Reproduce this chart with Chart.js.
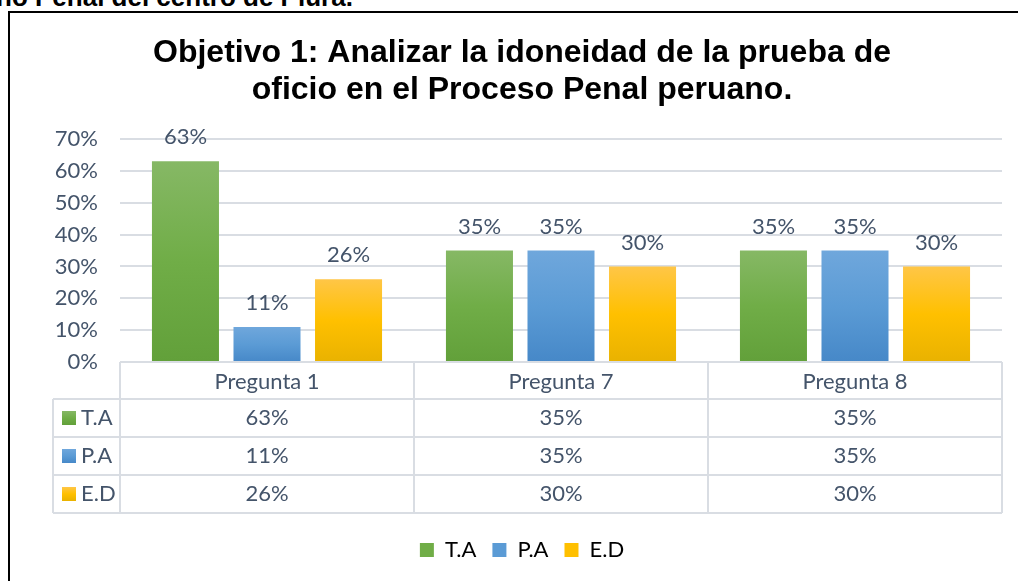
<!DOCTYPE html>
<html>
<head>
<meta charset="utf-8">
<script src="https://cdn.jsdelivr.net/npm/chart.js@4/dist/chart.umd.min.js"></script>
<style>
  body { margin: 0; background: #fff; width: 1018px; height: 581px; overflow: hidden; position: relative; }
  #arriba { position: absolute; left: -4px; top: -16px; font: bold 26px "Liberation Sans", Arial, sans-serif; line-height: 26px; color: #000; white-space: nowrap; }
  #marco { position: absolute; left: 8px; top: 11px; width: 1100px; height: 700px; border: 2px solid #000; }
  #grafico { position: absolute; left: 0; top: 0; }
</style>
</head>
<body>
<div id="arriba">no Penal del centro de Piura.</div>
<div id="marco"></div>
<canvas id="grafico" width="1018" height="581"></canvas>
<script>
// datos
const categorias = ["Pregunta 1", "Pregunta 7", "Pregunta 8"];
const series = ["T.A", "P.A", "E.D"];
const valoresTA = [63, 35, 35];
const valoresPA = [11, 35, 35];
const valoresED = [26, 30, 30];
const yMax = 70;
const yPaso = 10;

const titulo = ["Objetivo 1: Analizar la idoneidad de la prueba de", "oficio en el Proceso Penal peruano."];

// colores (arriba, medio, abajo)
const verde = ["#86b865", "#70ad47", "#62a03a"];
const azul = ["#6fa7dc", "#5b9bd5", "#4688c8"];
const amarillo = ["#ffc647", "#ffc000", "#e9b200"];

const texto = "#44546a";
const linea = "#d9dde3";
const fuente = "Lato, 'Open Sans', sans-serif";

function degradado(c) {
  return ctx => {
    const chart = ctx.chart;
    if (!chart.chartArea || ctx.type !== "data") return c[1];
    const y = chart.scales.y;
    const arriba = y.getPixelForValue(ctx.parsed.y);
    const base = y.getPixelForValue(0);
    const g = chart.ctx.createLinearGradient(0, arriba, 0, base);
    g.addColorStop(0, c[0]);
    g.addColorStop(0.5, c[1]);
    g.addColorStop(1, c[2]);
    return g;
  };
}

// etiquetas encima de las barras
const etiquetas = {
  id: "etiquetas",
  afterDatasetsDraw(chart) {
    const ctx = chart.ctx;
    ctx.save();
    ctx.font = "22px " + fuente;
    ctx.fillStyle = texto;
    ctx.textAlign = "center";
    ctx.textBaseline = "middle";
    chart.data.datasets.forEach((ds, i) => {
      chart.getDatasetMeta(i).data.forEach((bar, j) => {
        ctx.fillText(ds.data[j] + "%", bar.x, bar.y - 24);
      });
    });
    ctx.restore();
  }
};

// tabla de datos bajo el eje x
const tabla = {
  id: "tabla",
  afterDraw(chart) {
    const ctx = chart.ctx;
    const x = chart.scales.x;
    const area = chart.chartArea;
    const izq = 53;
    const altoCab = 37;
    const altoFila = 38;
    const y0 = area.bottom;
    const filas = chart.data.datasets.length;
    const yFin = y0 + altoCab + altoFila * filas;

    const bordes = [area.left];
    for (let i = 0; i < categorias.length - 1; i++) {
      bordes.push((x.getPixelForValue(i) + x.getPixelForValue(i + 1)) / 2);
    }
    bordes.push(area.right);

    ctx.save();
    ctx.strokeStyle = linea;
    ctx.lineWidth = 2;
    ctx.beginPath();
    ctx.moveTo(area.left, y0);
    ctx.lineTo(area.right, y0);
    for (let r = 0; r <= filas; r++) {
      const yy = y0 + altoCab + altoFila * r;
      ctx.moveTo(izq, yy);
      ctx.lineTo(area.right, yy);
    }
    bordes.forEach(bx => {
      ctx.moveTo(bx, y0);
      ctx.lineTo(bx, yFin);
    });
    ctx.moveTo(izq, y0 + altoCab);
    ctx.lineTo(izq, yFin);
    ctx.stroke();

    ctx.font = "22px " + fuente;
    ctx.fillStyle = texto;
    ctx.textBaseline = "middle";
    ctx.textAlign = "center";
    categorias.forEach((c, i) => {
      ctx.fillText(c, x.getPixelForValue(i), y0 + altoCab / 2 + 1);
    });
    chart.data.datasets.forEach((ds, r) => {
      const yc = y0 + altoCab + altoFila * r + altoFila / 2;
      ds.data.forEach((v, i) => {
        ctx.textAlign = "center";
        ctx.fillText(v + "%", x.getPixelForValue(i), yc);
      });
      const c = ds.colores;
      const g = ctx.createLinearGradient(0, yc - 7, 0, yc + 7);
      g.addColorStop(0, c[0]);
      g.addColorStop(0.5, c[1]);
      g.addColorStop(1, c[2]);
      ctx.fillStyle = g;
      ctx.fillRect(izq + 9, yc - 7, 14, 14);
      ctx.fillStyle = texto;
      ctx.textAlign = "left";
      ctx.fillText(ds.label, izq + 28, yc);
    });
    ctx.restore();
  }
};

const conjuntos = [
  { label: series[0], data: valoresTA, colores: verde, backgroundColor: degradado(verde) },
  { label: series[1], data: valoresPA, colores: azul, backgroundColor: degradado(azul) },
  { label: series[2], data: valoresED, colores: amarillo, backgroundColor: degradado(amarillo) }
];

new Chart(document.getElementById("grafico").getContext("2d"), {
  type: "bar",
  data: { labels: categorias, datasets: conjuntos },
  options: {
    responsive: false,
    animation: false,
    devicePixelRatio: 1,
    categoryPercentage: 0.832,
    barPercentage: 0.822,
    layout: { padding: { left: 42, right: 16, top: 0, bottom: 10 } },
    scales: {
      x: {
        grid: { display: false },
        border: { display: false },
        ticks: { display: false },
        afterFit: s => { s.height = 161; }
      },
      y: {
        min: 0,
        max: yMax,
        ticks: {
          stepSize: yPaso,
          padding: 22,
          color: texto,
          font: { family: fuente, size: 22 },
          callback: v => v + "%"
        },
        grid: { color: linea, lineWidth: 2, drawTicks: false },
        border: { display: false },
        afterFit: s => { s.width = 78; }
      }
    },
    plugins: {
      title: {
        display: true,
        text: titulo,
        color: "#000",
        font: { family: "'Liberation Sans', Arial, sans-serif", size: 32, weight: "bold", lineHeight: 37 / 32 },
        padding: { top: 35, bottom: 30 }
      },
      legend: {
        position: "bottom",
        labels: {
          color: texto,
          font: { family: fuente, size: 22 },
          boxWidth: 14,
          boxHeight: 14,
          padding: 16,
          generateLabels: chart => chart.data.datasets.map((ds, i) => ({
            text: ds.label,
            fillStyle: ds.colores[1],
            strokeStyle: ds.colores[1],
            lineWidth: 0,
            hidden: false,
            datasetIndex: i
          }))
        }
      },
      tooltip: { enabled: false }
    }
  },
  plugins: [etiquetas, tabla]
});
</script>
</body>
</html>
